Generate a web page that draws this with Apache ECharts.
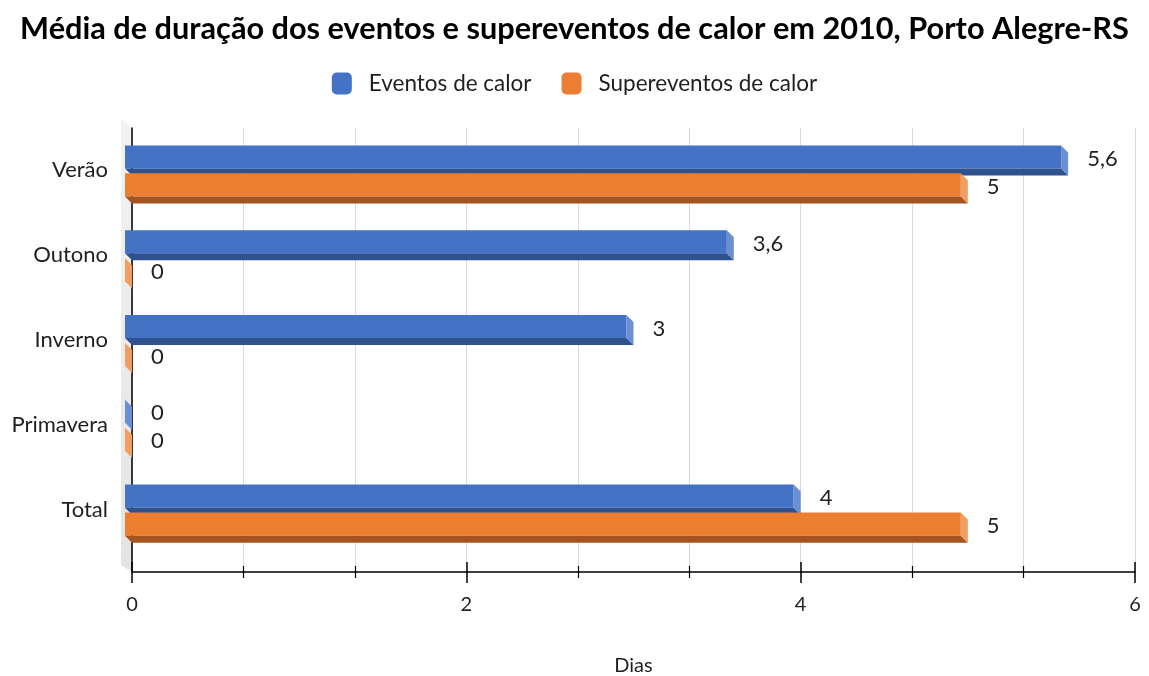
<!DOCTYPE html>
<html>
<head>
<meta charset="utf-8">
<script src="https://cdn.jsdelivr.net/npm/echarts@6/dist/echarts.min.js"></script>
<style>
  html, body { margin: 0; padding: 0; background: #fff; }
  #chart { width: 1149px; height: 676px; }
</style>
</head>
<body>
<div id="chart"></div>
<script>
// Estações do ano e total
const categories = ['Verão', 'Outono', 'Inverno', 'Primavera', 'Total'];
// Média de duração (dias)
const eventosCalor = [5.6, 3.6, 3, 0, 4];
const supereventosCalor = [5, 0, 0, 0, 5];
const seriesNames = ['Eventos de calor', 'Supereventos de calor'];
const xTicks = [0, 2, 4, 6];

const FONT = 'Lato, "Open Sans", sans-serif';
const TEXT = '#1f1f1f';

// Face colours for the pseudo-3D bars: front, bottom side, end cap
const palettes = [
  { front: '#4472C4', bottom: '#2F528F', cap: '#6B8FD3' },
  { front: '#ED7D31', bottom: '#A5541F', cap: '#F29D62' }
];
const DEPTH = 7;

function barRenderer(seriesIdx) {
  const pal = palettes[seriesIdx];
  return function (params, api) {
    const v = api.value(0);
    const cat = api.value(1);
    const base = api.coord([0, cat]);
    const end = api.coord([v, cat]);
    const band = api.size([0, 1])[1];
    const h = band * 0.272;
    const top = base[1] - band * 0.295 + seriesIdx * band * 0.33;
    const bottom = top + h;
    const x0 = base[0] - DEPTH;      // front face left edge
    const xe = end[0] - DEPTH;       // front face right edge
    const children = [];
    if (xe > x0) {
      children.push({
        type: 'rect',
        shape: { x: x0, y: top, width: xe - x0, height: h },
        style: { fill: pal.front }
      });
    }
    children.push({
      type: 'polygon',
      shape: { points: [[x0, bottom], [xe, bottom], [xe + DEPTH, bottom + DEPTH], [x0 + DEPTH, bottom + DEPTH]] },
      style: { fill: pal.bottom }
    });
    children.push({
      type: 'polygon',
      shape: { points: [[xe, top], [xe + DEPTH, top + DEPTH], [xe + DEPTH, bottom + DEPTH], [xe, bottom]] },
      style: { fill: pal.cap }
    });
    children.push({
      type: 'text',
      style: {
        text: String(v).replace('.', ','),
        x: end[0] + 19,
        y: top + h / 2 + 2,
        verticalAlign: 'middle',
        fill: TEXT,
        font: '22px ' + FONT
      }
    });
    return { type: 'group', children: children };
  };
}

// Side wall at the left of the plotting box
function wallRenderer(params, api) {
  const topPt = api.coord([0, 1]);
  const botPt = api.coord([0, 0]);
  return {
    type: 'polygon',
    shape: { points: [[topPt[0] - 11, topPt[1] - 10], [topPt[0], topPt[1]], [botPt[0], botPt[1]], [botPt[0] - 11, botPt[1] - 7]] },
    style: {
      fill: {
        type: 'linear', x: 0, y: 0, x2: 0, y2: 1,
        colorStops: [{ offset: 0, color: '#f3f3f3' }, { offset: 1, color: '#e3e3e3' }]
      }
    },
    z2: 0
  };
}

const chart = echarts.init(document.getElementById('chart'), null, { renderer: 'canvas' });

const tickAxisCommon = {
  type: 'value', gridIndex: 1, min: 0, max: 6, interval: 2, position: 'bottom'
};

chart.setOption({
  animation: false,
  backgroundColor: '#fff',
  title: {
    text: 'Média de duração dos eventos e supereventos de calor em 2010, Porto Alegre-RS',
    left: 'center',
    top: 9,
    textStyle: { fontFamily: FONT, fontWeight: 'bold', fontSize: 30.7, color: '#000' }
  },
  legend: {
    top: 67,
    left: 'center',
    itemWidth: 20,
    itemHeight: 22,
    itemGap: 30,
    icon: 'roundRect',
    data: seriesNames,
    textStyle: { fontFamily: FONT, fontSize: 22.5, color: TEXT, padding: [0, 0, 0, 12] }
  },
  grid: [
    { left: 132, right: 14, top: 128, height: 424, outerBoundsMode: 'none', containLabel: false },
    { left: 132, right: 14, top: 128, bottom: 104, outerBoundsMode: 'none', containLabel: false }
  ],
  xAxis: [
    { type: 'value', gridIndex: 0, min: 0, max: 6, show: false },
    Object.assign({}, tickAxisCommon, {
      axisLine: { show: true, onZero: false, lineStyle: { color: '#000', width: 1.5 } },
      axisTick: { show: true, length: 11, lineStyle: { color: '#000', width: 1.5 } },
      minorTick: { show: true, splitNumber: 3, length: 6, lineStyle: { color: '#000', width: 1.2 } },
      splitLine: { show: true, lineStyle: { color: '#d9d9d9', width: 1 } },
      minorSplitLine: { show: true, lineStyle: { color: '#d9d9d9', width: 1 } },
      axisLabel: {
        margin: 23, fontFamily: FONT, fontSize: 20, color: TEXT,
        formatter: function (v) { return xTicks.indexOf(v) >= 0 ? String(v) : ''; }
      },
      name: 'Dias',
      nameLocation: 'middle',
      nameGap: 84,
      nameTextStyle: { fontFamily: FONT, fontSize: 20, color: TEXT }
    }),
    Object.assign({}, tickAxisCommon, {
      axisLine: { show: false, onZero: false },
      axisTick: { show: true, inside: true, length: 10, lineStyle: { color: '#000', width: 1.5 } },
      minorTick: { show: true, splitNumber: 3, length: 6, lineStyle: { color: '#000', width: 1.2 } },
      splitLine: { show: false },
      axisLabel: { show: false }
    })
  ],
  yAxis: [
    {
      type: 'category', gridIndex: 0, data: categories, inverse: true,
      axisLine: { show: false }, axisTick: { show: false }, splitLine: { show: false },
      axisLabel: { margin: 24, fontFamily: FONT, fontSize: 22, color: TEXT }
    },
    {
      type: 'value', gridIndex: 1, min: 0, max: 1,
      axisLine: { show: true, onZero: false, lineStyle: { color: '#000', width: 1.5 } },
      axisTick: { show: false }, axisLabel: { show: false }, splitLine: { show: false }
    }
  ],
  series: [
    {
      type: 'custom', name: 'wall', xAxisIndex: 1, yAxisIndex: 1, z: 0,
      renderItem: wallRenderer, data: [[0, 0]], silent: true, legendHoverLink: false
    },
    {
      type: 'custom', name: seriesNames[0], xAxisIndex: 0, yAxisIndex: 0, z: 3,
      itemStyle: { color: palettes[0].front },
      renderItem: barRenderer(0),
      encode: { x: 0, y: 1 },
      data: eventosCalor.map(function (v, i) { return [v, i]; })
    },
    {
      type: 'custom', name: seriesNames[1], xAxisIndex: 0, yAxisIndex: 0, z: 3,
      itemStyle: { color: palettes[1].front },
      renderItem: barRenderer(1),
      encode: { x: 0, y: 1 },
      data: supereventosCalor.map(function (v, i) { return [v, i]; })
    }
  ]
});
</script>
</body>
</html>
